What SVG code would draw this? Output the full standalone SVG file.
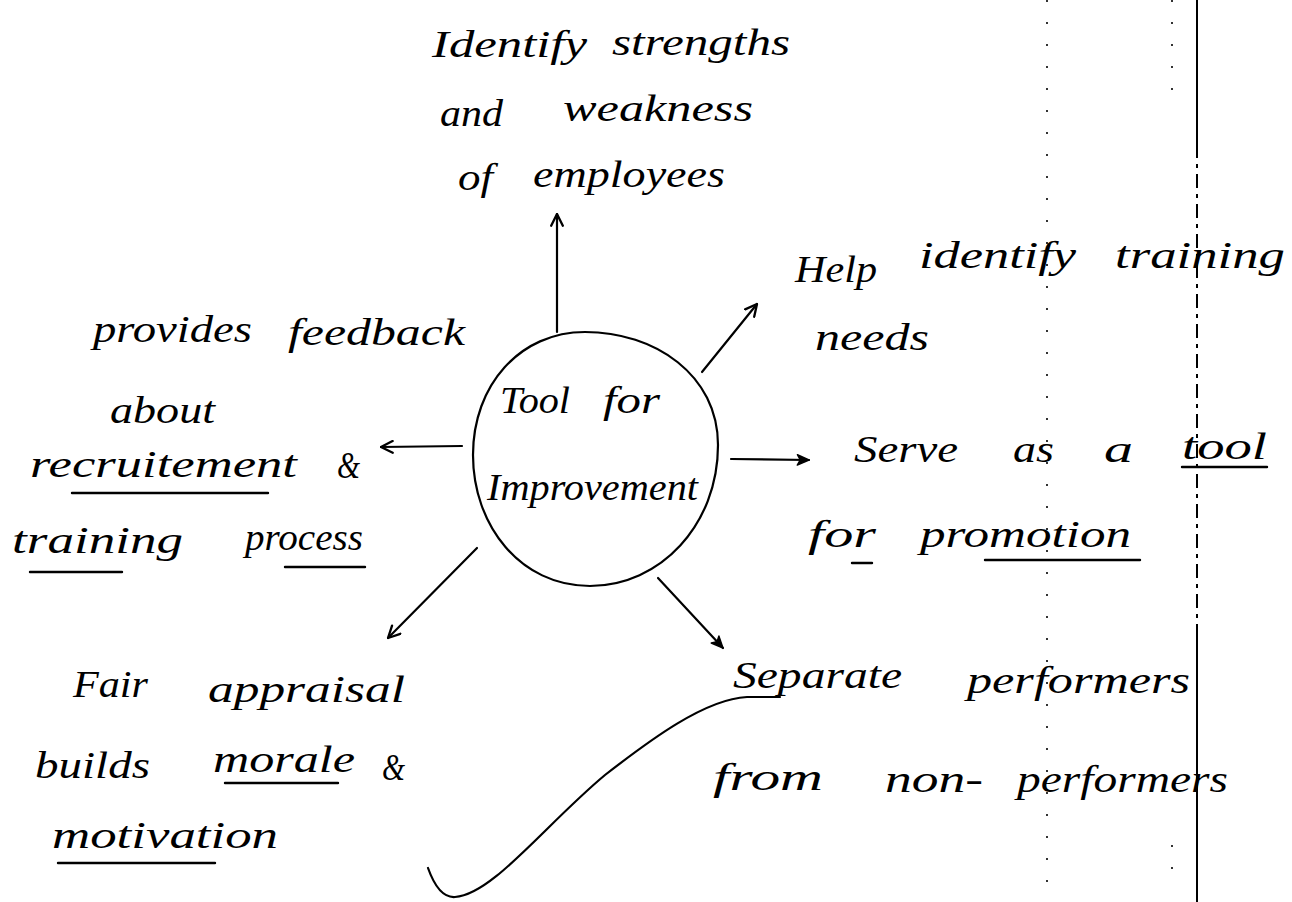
<svg xmlns="http://www.w3.org/2000/svg" width="1292" height="902" viewBox="0 0 1292 902">
<style>
  text { font-family: "Liberation Serif", "DejaVu Serif", serif; font-style: italic; font-size: 38px; fill: #000; }
  .ln { fill: none; stroke: #000; stroke-width: 2.2; stroke-linecap: round; stroke-linejoin: round; }
  .ul { fill: none; stroke: #000; stroke-width: 2.4; stroke-linecap: round; }
  .page { fill: none; stroke: #000; stroke-width: 2; }
  .dots { fill: none; stroke: #000; stroke-width: 1.6; stroke-dasharray: 2 20; }
</style>
<defs>
  <marker id="open" viewBox="0 0 12 12" refX="11" refY="6" markerWidth="14" markerHeight="14" markerUnits="userSpaceOnUse" orient="auto">
    <path d="M1,1 L11,6 L1,11" fill="none" stroke="#000" stroke-width="2" stroke-linecap="round" stroke-linejoin="round"/>
  </marker>
  <marker id="solid" viewBox="0 0 12 12" refX="11" refY="6" markerWidth="14" markerHeight="14" markerUnits="userSpaceOnUse" orient="auto">
    <path d="M1,1.5 L11,6 L1,10.5 L3.5,6 Z" fill="#000" stroke="#000" stroke-width="1.2" stroke-linejoin="round"/>
  </marker>
</defs>
<rect width="1292" height="902" fill="#fff"/>

<g id="page-lines">
  <path class="page" d="M1197,0 V144"/>
  <path class="page" d="M1197,144 V632" stroke-dasharray="14 6 4 6"/>
  <path class="page" d="M1197,632 V902"/>
  <path class="dots" d="M1047,0 V902"/>
  <path class="dots" d="M1172,0 V100 M1172,845 V878"/>
</g>

<g id="connectors">
  <path class="ln" d="M557,332 L557,214" marker-end="url(#open)"/>
  <path class="ln" d="M702,372 L757,304" marker-end="url(#open)"/>
  <path class="ln" d="M462,446 L381,447" marker-end="url(#open)"/>
  <path class="ln" d="M731,459 L809,460" marker-end="url(#solid)"/>
  <path class="ln" d="M477,548 L388,638" marker-end="url(#open)"/>
  <path class="ln" d="M658,578 L723,648" marker-end="url(#solid)"/>
</g>

<g id="node-center">
  <path class="ln" d="M585,332 C655,332 718,375 718,445 C718,525 660,586 590,586 C520,586 473,525 473,455 C473,385 520,332 585,332 Z"/>
  <text x="500" y="413"><tspan x="500" textLength="70" lengthAdjust="spacingAndGlyphs">Tool</tspan> <tspan x="603" textLength="57" lengthAdjust="spacingAndGlyphs">for</tspan></text>
  <text x="487" y="500" textLength="211" lengthAdjust="spacingAndGlyphs">Improvement</text>
</g>

<g id="node-identify">
  <text x="432" y="57"><tspan x="432" textLength="155" lengthAdjust="spacingAndGlyphs">Identify</tspan> <tspan x="612" y="55" textLength="178" lengthAdjust="spacingAndGlyphs">strengths</tspan></text>
  <text x="440" y="126"><tspan x="440" textLength="63" lengthAdjust="spacingAndGlyphs">and</tspan> <tspan x="563" y="121" textLength="190" lengthAdjust="spacingAndGlyphs">weakness</tspan></text>
  <text x="458" y="190"><tspan x="458" textLength="35" lengthAdjust="spacingAndGlyphs">of</tspan> <tspan x="533" y="187" textLength="192" lengthAdjust="spacingAndGlyphs">employees</tspan></text>
</g>

<g id="node-training-needs">
  <text x="795" y="282"><tspan x="795" textLength="82" lengthAdjust="spacingAndGlyphs">Help</tspan> <tspan x="919" y="268" textLength="157" lengthAdjust="spacingAndGlyphs">identify</tspan> <tspan x="1115" y="268" textLength="170" lengthAdjust="spacingAndGlyphs">training</tspan></text>
  <text x="815" y="350" textLength="114" lengthAdjust="spacingAndGlyphs">needs</text>
</g>

<g id="node-promotion">
  <text x="854" y="462"><tspan x="854" textLength="104" lengthAdjust="spacingAndGlyphs">Serve</tspan> <tspan x="1013" textLength="41" lengthAdjust="spacingAndGlyphs">as</tspan> <tspan x="1104" textLength="29" lengthAdjust="spacingAndGlyphs">a</tspan> <tspan x="1182" y="459" textLength="85" lengthAdjust="spacingAndGlyphs">tool</tspan></text>
  <text x="808" y="547"><tspan x="808" textLength="68" lengthAdjust="spacingAndGlyphs">for</tspan> <tspan x="920" textLength="211" lengthAdjust="spacingAndGlyphs">promotion</tspan></text>
  <path class="ul" d="M1182,467 H1267 M852,563 H872 M985,560 H1140"/>
</g>

<g id="node-separate">
  <text x="733" y="688"><tspan x="733" textLength="169" lengthAdjust="spacingAndGlyphs">Separate</tspan> <tspan x="967" y="693" textLength="223" lengthAdjust="spacingAndGlyphs">performers</tspan></text>
  <text x="713" y="790"><tspan x="713" textLength="110" lengthAdjust="spacingAndGlyphs">from</tspan> <tspan x="885" y="792" textLength="98" lengthAdjust="spacingAndGlyphs">non-</tspan><tspan x="1017" y="792" textLength="211" lengthAdjust="spacingAndGlyphs">performers</tspan></text>
  <path class="ln" d="M780,697 L747,697 C705,699 650,740 605,775 C545,825 492,895 455,897 C442,898 433,882 428,868"/>
</g>

<g id="node-morale">
  <text x="73" y="697"><tspan x="73" textLength="75" lengthAdjust="spacingAndGlyphs">Fair</tspan> <tspan x="208" y="702" textLength="197" lengthAdjust="spacingAndGlyphs">appraisal</tspan></text>
  <text x="35" y="778"><tspan x="35" textLength="115" lengthAdjust="spacingAndGlyphs">builds</tspan> <tspan x="213" y="772" textLength="142" lengthAdjust="spacingAndGlyphs">morale</tspan> <tspan x="382" y="780" textLength="23" lengthAdjust="spacingAndGlyphs">&amp;</tspan></text>
  <text x="52" y="848" textLength="226" lengthAdjust="spacingAndGlyphs">motivation</text>
  <path class="ul" d="M225,783 H338 M58,863 H215"/>
</g>

<g id="node-feedback">
  <text x="93" y="342"><tspan x="93" textLength="159" lengthAdjust="spacingAndGlyphs">provides</tspan> <tspan x="288" y="345" textLength="177" lengthAdjust="spacingAndGlyphs">feedback</tspan></text>
  <text x="110" y="423" textLength="105" lengthAdjust="spacingAndGlyphs">about</text>
  <text x="30" y="477"><tspan x="30" textLength="267" lengthAdjust="spacingAndGlyphs">recruitement</tspan> <tspan x="337" y="478" textLength="23" lengthAdjust="spacingAndGlyphs">&amp;</tspan></text>
  <text x="12" y="553"><tspan x="12" textLength="171" lengthAdjust="spacingAndGlyphs">training</tspan> <tspan x="245" y="550" textLength="118" lengthAdjust="spacingAndGlyphs">process</tspan></text>
  <path class="ul" d="M72,493 H268 M30,572 H122 M285,567 H365"/>
</g>
</svg>
